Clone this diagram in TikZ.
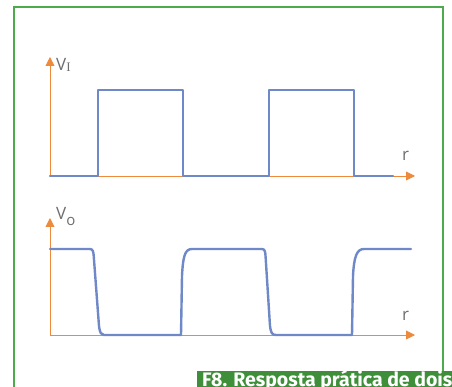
\documentclass[tikz,border=0pt]{standalone}
\usepackage{fontspec}
\setmainfont{Open Sans}
\newfontfamily\capfont{Fira Sans}
\newfontfamily\subfont{Liberation Serif}
\usetikzlibrary{arrows.meta}
\definecolor{sigblue}{HTML}{6F88C8}
\definecolor{axorange}{HTML}{EE8A3C}
\definecolor{framegreen}{HTML}{4DAA4D}
\definecolor{capgreen}{HTML}{3F8F3A}
\definecolor{labgrey}{HTML}{6E6E6E}
\tikzset{
  axis/.style={draw=axorange, line width=0.9pt, -{Triangle[length=9pt,width=9pt]}},
  signal/.style={draw=sigblue, line width=2.4pt, line join=round, line cap=round},
  lab/.style={text=labgrey, font=\fontsize{17}{17}\selectfont, inner sep=0pt, anchor=base west},
  frameline/.style={draw=framegreen, line width=1.6pt},
}
\begin{document}
\begin{tikzpicture}[x=1pt,y=-1pt]
\useasboundingbox (0,0) rectangle (452,387);
\clip (0,0) rectangle (452,387);
% frame
\coordinate (fbl) at (14,390);
\coordinate (ftl) at (14,7);
\coordinate (ftr) at (443,7);
\coordinate (fbr) at (443,371);
\draw[frameline] (fbl) -- (ftl) -- (ftr) -- (fbr);
% caption bar
\node[fill=capgreen, minimum width=270pt, minimum height=30pt, anchor=north west, inner sep=0pt] (bar) at (197,371) {};
\node[text=white, font=\capfont\bfseries\fontsize{19.5}{19.5}\selectfont, anchor=base west, inner sep=0pt] (cap) at (202,386) {F8. Resposta prática de dois};
% top plot axes
\coordinate (o1) at (50,176);
\coordinate (y1) at (50,57);
\coordinate (x1) at (415,176);
\draw[axis] (o1) -- (y1);
\draw[axis] (o1) -- (x1);
\node[lab] (vi) at (56,70.5) {V\raisebox{-1.5pt}{\subfont\fontsize{13}{13}\selectfont I}};
\node[lab] (r1) at (402,161) {r};
% top signal
\draw[signal] (o1) -- (98,176) -- (98,90) -- (183,90) -- (183,176) -- (269,176) -- (269,90) -- (354,90) -- (354,176) -- (393,176);
% bottom plot axes
\coordinate (o2) at (50,335);
\coordinate (y2) at (50,218);
\coordinate (x2) at (415,335);
\draw[axis] (o2) -- (y2);
\draw[axis] (o2) -- (x2);
\node[lab] (vo) at (56,220) {V\raisebox{-6pt}{\fontsize{15}{15}\selectfont o}};
\node[lab] (r2) at (402,320) {r};
% bottom signal
\draw[signal] (50,249) -- (90,249) .. controls (93,249) and (93.5,252) .. (93.8,257)
  -- (99,326) .. controls (100,333) and (101,335) .. (104,335)
  -- (181,335) -- (182,276) .. controls (183,256) and (185,249) .. (192,249)
  -- (262,249) .. controls (265,249) and (265.3,252) .. (265.6,257)
  -- (270,326) .. controls (271,333) and (272,335) .. (276,335)
  -- (352,335) -- (353,276) .. controls (354,256) and (357,249) .. (364,249)
  -- (411,249);
\end{tikzpicture}
\end{document}
